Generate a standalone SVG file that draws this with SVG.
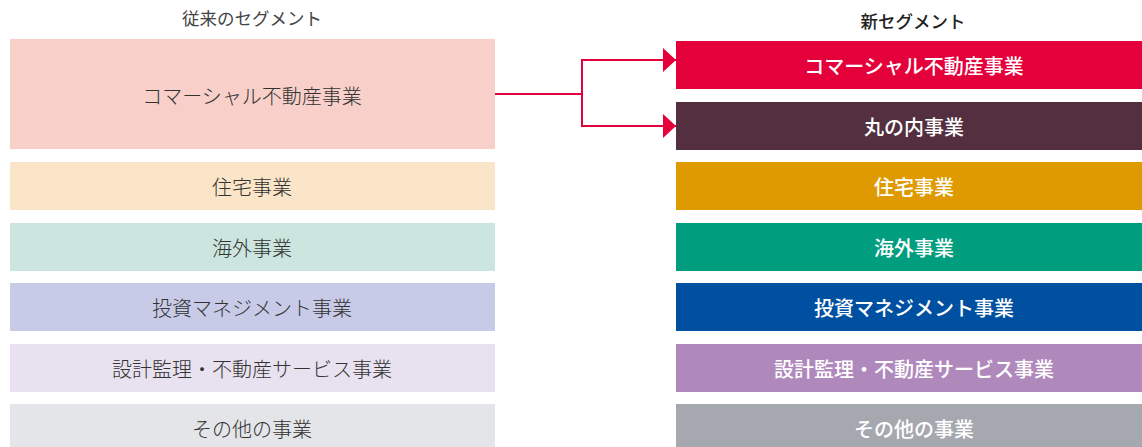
<svg xmlns="http://www.w3.org/2000/svg" width="1142" height="447" viewBox="0 0 1142 447">
<defs>
<style>
.title{font-family:"Noto Sans CJK JP","Noto Sans CJK SC",sans-serif;font-size:17.5px;font-weight:400;fill:#444;text-anchor:middle}
.newtitle{font-family:"Noto Sans CJK JP","Noto Sans CJK SC",sans-serif;font-size:17.5px;font-weight:500;fill:#222;text-anchor:middle}
.lt{font-family:"Noto Sans CJK JP","Noto Sans CJK SC",sans-serif;font-size:20px;font-weight:300;fill:#333;text-anchor:middle;dominant-baseline:central}
.rt{font-family:"Noto Sans CJK JP","Noto Sans CJK SC",sans-serif;font-size:20px;font-weight:500;fill:#fff;text-anchor:middle;dominant-baseline:central}
.conn{fill:none;stroke:#e4003a;stroke-width:2}
</style>
<marker id="ah" markerWidth="14" markerHeight="24" refX="13" refY="12" orient="auto" markerUnits="userSpaceOnUse">
<path d="M0,0 L13,12 L0,24 Z" fill="#e4003a"/>
</marker>
</defs>
<text class="title" x="252" y="25">従来のセグメント</text>
<text class="newtitle" x="913" y="28">新セグメント</text>
<g id="old-commercial"><rect x="10" y="39" width="485" height="110" fill="#f8d0c9"/><text class="lt" x="252" y="95">コマーシャル不動産事業</text></g>
<g id="old-residential"><rect x="10" y="162" width="485" height="48" fill="#fae5c8"/><text class="lt" x="252" y="186">住宅事業</text></g>
<g id="old-overseas"><rect x="10" y="223" width="485" height="48" fill="#cce5df"/><text class="lt" x="252" y="247">海外事業</text></g>
<g id="old-investment"><rect x="10" y="283" width="485" height="48" fill="#c8cbe7"/><text class="lt" x="252" y="307">投資マネジメント事業</text></g>
<g id="old-design"><rect x="10" y="344" width="485" height="48" fill="#e8e1ef"/><text class="lt" x="252" y="368">設計監理・不動産サービス事業</text></g>
<g id="old-other"><rect x="10" y="404" width="485" height="48" fill="#e4e5e9"/><text class="lt" x="252" y="428">その他の事業</text></g>
<g id="new-commercial"><rect x="676" y="41" width="466" height="48" fill="#e4003a"/><text class="rt" x="914" y="65">コマーシャル不動産事業</text></g>
<g id="new-marunouchi"><rect x="676" y="102" width="466" height="48" fill="#532f40"/><text class="rt" x="914" y="126">丸の内事業</text></g>
<g id="new-residential"><rect x="676" y="162" width="466" height="48" fill="#de9a00"/><text class="rt" x="914" y="186">住宅事業</text></g>
<g id="new-overseas"><rect x="676" y="223" width="466" height="48" fill="#009d7f"/><text class="rt" x="914" y="247">海外事業</text></g>
<g id="new-investment"><rect x="676" y="283" width="466" height="48" fill="#0050a2"/><text class="rt" x="914" y="307">投資マネジメント事業</text></g>
<g id="new-design"><rect x="676" y="344" width="466" height="48" fill="#b089bc"/><text class="rt" x="914" y="368">設計監理・不動産サービス事業</text></g>
<g id="new-other"><rect x="676" y="404" width="466" height="48" fill="#a6a8b0"/><text class="rt" x="914" y="428">その他の事業</text></g>
<g id="connectors">
<path class="conn" d="M495,94 H582"/>
<path class="conn" d="M582,94 V60 H676" marker-end="url(#ah)"/>
<path class="conn" d="M582,94 V126 H676" marker-end="url(#ah)"/>
</g>
</svg>
